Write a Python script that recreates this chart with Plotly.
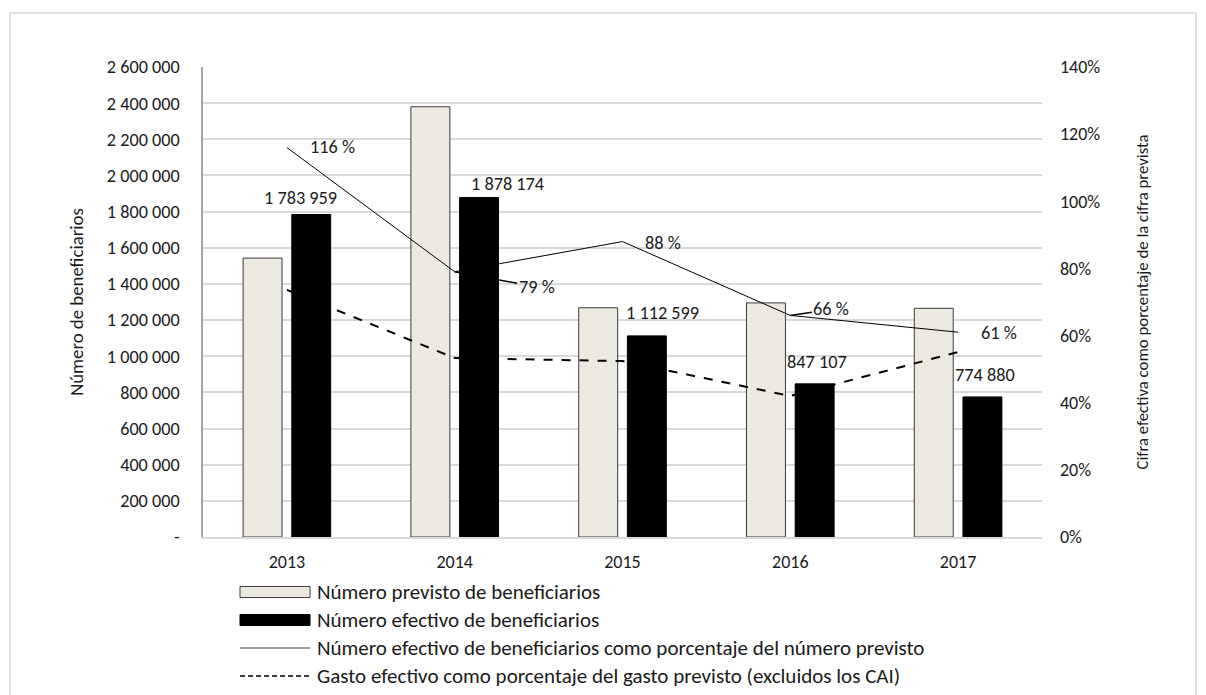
import plotly.graph_objects as go

years = ["2013", "2014", "2015", "2016", "2017"]
previsto = [1543000, 2380000, 1268000, 1295000, 1265000]
efectivo = [1783959, 1878174, 1112599, 847107, 774880]
pct_benef = [116, 79, 88, 66, 61]
pct_gasto = [73.6, 53.3, 52.4, 42.0, 55.1]
efectivo_labels = ["1 783 959", "1 878 174", "1 112 599", "847 107", "774 880"]
pct_labels = ["116 %", "79 %", "88 %", "66 %", "61 %"]
series_names = ["Número previsto de beneficiarios",
                "Número efectivo de beneficiarios",
                "Número efectivo de beneficiarios como porcentaje del número previsto",
                "Gasto efectivo como porcentaje del gasto previsto (excluidos los CAI)"]
left_ticks = [0, 200000, 400000, 600000, 800000, 1000000, 1200000, 1400000,
              1600000, 1800000, 2000000, 2200000, 2400000, 2600000]
left_ticktext = ["-", "200 000", "400 000", "600 000", "800 000", "1 000 000",
                 "1 200 000", "1 400 000", "1 600 000", "1 800 000", "2 000 000",
                 "2 200 000", "2 400 000", "2 600 000"]
right_ticks = [0, 20, 40, 60, 80, 100, 120, 140]
right_ticktext = ["0%", "20%", "40%", "60%", "80%", "100%", "120%", "140%"]

FONT = "Carlito, Calibri, Open Sans, Noto Sans, sans-serif"
TXT = "#1a1a1a"
LBL = 18.3
BEIGE = "#ECEAE0"

# plot-area geometry in pixels (used to place the hand-drawn legend)
ML, MR, MT, MB, W, H = 203, 164, 67, 158, 1206, 695
PW, PH = W - ML - MR, H - MT - MB


def px(x):
    return (x - ML) / PW


def py(y):
    return (H - MB - y) / PH


fig = go.Figure()
fig.add_trace(go.Bar(x=years, y=previsto, name=series_names[0],
                     marker=dict(color=BEIGE, line=dict(color="#3a3a3a", width=1))))
fig.add_trace(go.Bar(x=years, y=efectivo, name=series_names[1],
                     marker=dict(color="#000000", line=dict(color="#000000", width=1))))
fig.add_trace(go.Scatter(x=years, y=pct_benef, yaxis="y2", mode="lines",
                         name=series_names[2], line=dict(color="#000000", width=1)))
fig.add_trace(go.Scatter(x=years, y=pct_gasto, yaxis="y2", mode="lines",
                         name=series_names[3],
                         line=dict(color="#000000", width=2, dash="dash")))

annotations = []
# value labels for efectivo bars (pixel offsets from bar top)
eff_offsets = [(-11, 17), (28, 13), (15, 23), (2, 22), (2, 22)]
for i, (v, t, (dx, dy)) in enumerate(zip(efectivo, efectivo_labels, eff_offsets)):
    annotations.append(dict(x=i, y=v, xref="x", yref="y", text=t, showarrow=False,
                            xshift=24.5 + dx, yshift=dy, font=dict(size=LBL, color=TXT, family=FONT)))
# percentage labels
pct_offsets = [(46, 1), (82, -15), (40, -1), (41, 6), (41, -1)]
for i, (v, t, (dx, dy)) in enumerate(zip(pct_benef, pct_labels, pct_offsets)):
    if i in (1, 3):
        annotations.append(dict(x=i, y=v, xref="x", yref="y2", text=t, showarrow=True,
                                arrowhead=0, arrowwidth=1.5, arrowcolor="#000000",
                                ax=dx, ay=-dy, standoff=0,
                                font=dict(size=LBL, color=TXT, family=FONT)))
    else:
        annotations.append(dict(x=i, y=v, xref="x", yref="y2", text=t, showarrow=False,
                                xshift=dx, yshift=dy, font=dict(size=LBL, color=TXT, family=FONT)))

# legend (drawn below the plot, Excel style)
row_y = [592, 620, 648, 676]
sym_x0, sym_x1, txt_x = 240, 310, 315
shapes = [dict(type="rect", xref="paper", yref="paper",
               x0=px(10), x1=px(1196), y0=py(720), y1=py(13),
               line=dict(color="#d9d9d9", width=1.5), fillcolor="rgba(0,0,0,0)",
               layer="below")]
shapes.append(dict(type="rect", xref="paper", yref="paper",
                   x0=px(sym_x0), x1=px(sym_x1), y0=py(row_y[0] + 5.5), y1=py(row_y[0] - 5.5),
                   line=dict(color="#3a3a3a", width=1), fillcolor=BEIGE))
shapes.append(dict(type="rect", xref="paper", yref="paper",
                   x0=px(sym_x0), x1=px(sym_x1), y0=py(row_y[1] + 5.5), y1=py(row_y[1] - 5.5),
                   line=dict(color="#000000", width=1), fillcolor="#000000"))
shapes.append(dict(type="line", xref="paper", yref="paper",
                   x0=px(sym_x0), x1=px(sym_x1), y0=py(row_y[2]), y1=py(row_y[2]),
                   line=dict(color="#404040", width=1)))
shapes.append(dict(type="line", xref="paper", yref="paper",
                   x0=px(sym_x0), x1=px(sym_x1), y0=py(row_y[3]), y1=py(row_y[3]),
                   line=dict(color="#000000", width=1.5, dash="5px,3px")))
for name, ry in zip(series_names, row_y):
    annotations.append(dict(x=px(txt_x), y=py(ry), xref="paper", yref="paper",
                            xanchor="left", yanchor="middle", text=name, showarrow=False,
                            font=dict(size=21, color=TXT, family=FONT)))

fig.update_layout(
    width=W, height=H, showlegend=False,
    margin=dict(l=ML, r=MR, t=MT, b=MB, autoexpand=False),
    paper_bgcolor="white", plot_bgcolor="white",
    font=dict(family=FONT, size=18, color=TXT),
    barmode="group", bargap=0.42, bargroupgap=0.2,
    xaxis=dict(type="category", range=[-0.5, 4.5], showgrid=False, showline=True,
               linecolor="#d9d9d9", linewidth=1.5, ticks="", tickfont=dict(size=18),
               ticklabelstandoff=8),
    yaxis=dict(range=[0, 2600000], tickvals=left_ticks, ticktext=left_ticktext,
               tickfont=dict(size=18.2),
               showgrid=True, gridcolor="#d9d9d9", gridwidth=1.5,
               showline=True, linecolor="#a6a6a6", linewidth=1.5,
               zeroline=False, ticks="", ticklabelstandoff=18,
               title=dict(text="Número de beneficiarios", standoff=18, font=dict(size=18.8))),
    yaxis2=dict(range=[0, 140], tickvals=right_ticks, ticktext=right_ticktext,
                tickfont=dict(size=18),
                overlaying="y", side="right", showgrid=False, zeroline=False,
                showline=False, ticks="", ticklabelstandoff=17,
                title=dict(text="Cifra efectiva como porcentaje de la cifra prevista",
                           standoff=36, font=dict(size=16.8))),
    annotations=annotations,
    shapes=shapes,
)

fig.write_html("out.html")
